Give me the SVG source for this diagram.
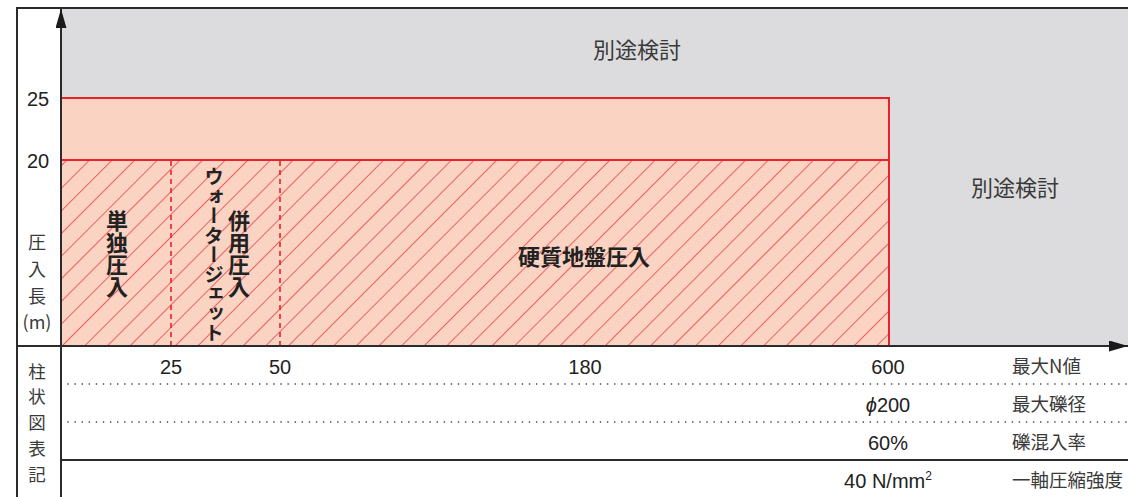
<svg xmlns="http://www.w3.org/2000/svg" width="1128" height="497" viewBox="0 0 1128 497">
<style>
.t{font-family:"Liberation Sans","Noto Sans CJK JP",sans-serif;fill:#222;}
.j{font-family:"Noto Sans CJK JP",sans-serif;fill:#3a3a3a;}
.jb{font-family:"Noto Sans CJK JP",sans-serif;fill:#222;font-weight:bold;}
.red{stroke:#e8212b;fill:none;}
.ax{stroke:#2b2b2b;stroke-width:2;fill:none;}
.dot{stroke:#333;stroke-width:1.6;stroke-dasharray:0.1 7;stroke-linecap:round;fill:none;}
</style>
<defs>
<pattern id="hatch" patternUnits="userSpaceOnUse" width="16" height="16" patternTransform="rotate(45)">
<rect width="16" height="16" fill="#fbd3c2"/>
<line x1="0" y1="0" x2="0" y2="16" stroke="#e8212b" stroke-width="1.3"/>
</pattern>
<marker id="arrA" viewBox="0 0 10 10" refX="10" refY="5" markerWidth="19" markerHeight="11" orient="auto" markerUnits="userSpaceOnUse" preserveAspectRatio="none">
<path d="M0,0 L10,5 L0,10 z" fill="#1a1a1a"/>
</marker>
</defs>
<rect width="1128" height="497" fill="#fff"/>
<g id="other-area">
<rect x="61" y="8" width="1067" height="338" fill="#dcdcde"/>
<text class="j" x="637" y="58" font-size="22" text-anchor="middle">別途検討</text>
<text class="j" x="1015" y="196" font-size="22" text-anchor="middle">別途検討</text>
</g>
<g id="band-20-25">
<rect x="61" y="98" width="828" height="62" fill="#fbd3c2" stroke="#e8212b" stroke-width="2"/>
</g>
<g id="hard-ground">
<rect x="61" y="160" width="828" height="186" fill="url(#hatch)" stroke="#e8212b" stroke-width="2"/>
<text class="jb" x="584" y="265" font-size="22" text-anchor="middle">硬質地盤圧入</text>
</g>
<g id="dividers">
<line class="red" x1="171" y1="161" x2="171" y2="346" stroke-width="1.6" stroke-dasharray="5 4"/>
<line class="red" x1="280" y1="161" x2="280" y2="346" stroke-width="1.6" stroke-dasharray="5 4"/>
</g>
<g id="single-press">
<text class="jb" x="117" y="210" font-size="22" style="writing-mode:vertical-rl">単独圧入</text>
</g>
<g id="waterjet">
<text class="jb" x="214" y="167" font-size="19.5" style="writing-mode:vertical-rl">ウォータージェット</text>
<text class="jb" x="239" y="210" font-size="22" style="writing-mode:vertical-rl">併用圧入</text>
</g>
<g id="connectors">
<line class="ax" x1="16" y1="8" x2="1128" y2="8"/>
<line class="ax" x1="17" y1="8" x2="17" y2="497"/>
<line class="ax" x1="61" y1="497" x2="61" y2="9" marker-end="url(#arrA)"/>
<line class="ax" x1="16" y1="346" x2="1128" y2="346" marker-end="url(#arrA)"/>
<line class="ax" x1="61" y1="460" x2="1128" y2="460"/>
<line class="dot" x1="68" y1="384" x2="1128" y2="384"/>
<line class="dot" x1="68" y1="422" x2="1128" y2="422"/>
</g>
<g id="y-labels">
<text class="t" x="38" y="106" font-size="20" text-anchor="middle">25</text>
<text class="t" x="38" y="168" font-size="20" text-anchor="middle">20</text>
<text class="j" x="37" y="249" font-size="18" text-anchor="middle">圧</text>
<text class="j" x="37" y="276" font-size="18" text-anchor="middle">入</text>
<text class="j" x="37" y="303" font-size="18" text-anchor="middle">長</text>
<text class="j" x="37" y="329" font-size="18" text-anchor="middle">(m)</text>
</g>
<g id="table-labels">
<text class="j" x="37" y="378" font-size="17.5" text-anchor="middle">柱</text>
<text class="j" x="37" y="403" font-size="17.5" text-anchor="middle">状</text>
<text class="j" x="37" y="429" font-size="17.5" text-anchor="middle">図</text>
<text class="j" x="37" y="455" font-size="17.5" text-anchor="middle">表</text>
<text class="j" x="37" y="481" font-size="17.5" text-anchor="middle">記</text>
</g>
<g id="table-values">
<text class="t" x="171" y="374" font-size="20" text-anchor="middle">25</text>
<text class="t" x="280" y="374" font-size="20" text-anchor="middle">50</text>
<text class="t" x="585" y="374" font-size="20" text-anchor="middle">180</text>
<text class="t" x="888" y="374" font-size="20" text-anchor="middle">600</text>
<text class="t" x="888" y="412" font-size="20" text-anchor="middle"><tspan font-style="italic">ϕ</tspan>200</text>
<text class="t" x="888" y="450" font-size="20" text-anchor="middle">60%</text>
<text class="t" x="888" y="488" font-size="20" text-anchor="middle">40 N/mm<tspan font-size="12" dy="-8">2</tspan></text>
<text class="j" x="1012" y="373" font-size="18.5">最大N値</text>
<text class="j" x="1012" y="411" font-size="18.5">最大礫径</text>
<text class="j" x="1012" y="449" font-size="18.5">礫混入率</text>
<text class="j" x="1012" y="487" font-size="18.5">一軸圧縮強度</text>
</g>
</svg>
